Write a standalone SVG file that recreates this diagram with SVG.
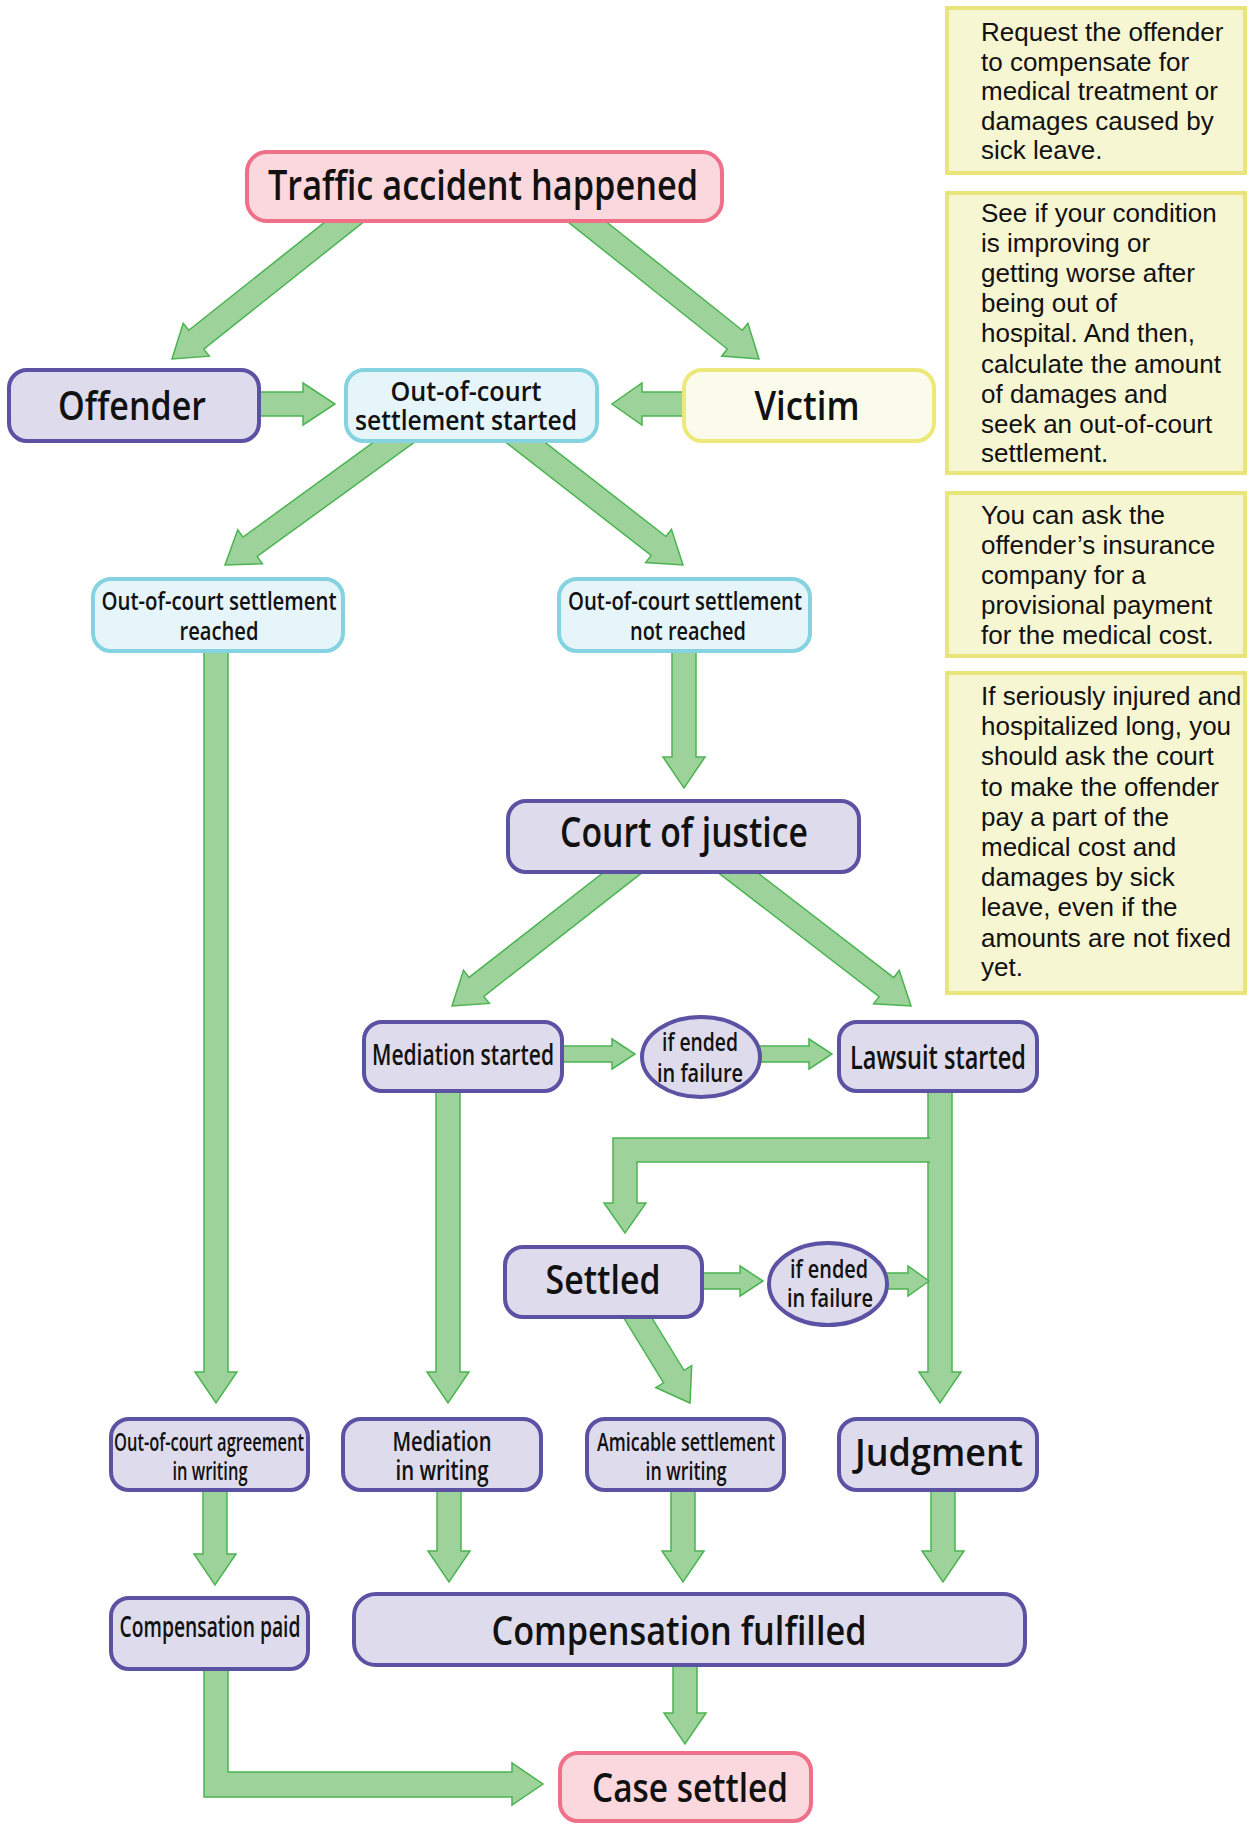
<svg xmlns="http://www.w3.org/2000/svg" width="1250" height="1825" viewBox="0 0 1250 1825">
<style>
.arr{fill:#9dd29b;stroke:#4bb451;stroke-width:1.5;stroke-linejoin:miter}
.pk{fill:#fad8dd;stroke:#ee7189;stroke-width:4}
.pu{fill:#dedcec;stroke:#5b52a3;stroke-width:4}
.cy{fill:#e6f5f9;stroke:#85d3e0;stroke-width:4}
.ye{fill:#fafbea;stroke:#ece97a;stroke-width:4}
.nt{fill:#f7f6d3;stroke:#e9e57a;stroke-width:4}
.t{font-family:"Open Sans","Noto Sans",sans-serif;font-weight:600;fill:#111;text-anchor:middle}
.n{font-family:"Liberation Sans",Arial,sans-serif;font-size:26px;fill:#111}
</style>
<rect width="1250" height="1825" fill="#fff"/>
<g id="connectors">
<path class="arr" transform="translate(172,359) rotate(141.5)" d="M-245,-12 H-31 V-21 L0,0 L-31,21 V12 H-245 Z"/>
<path class="arr" transform="translate(759,359) rotate(38.6)" d="M-245,-12 H-31 V-21 L0,0 L-31,21 V12 H-245 Z"/>
<polygon class="arr" points="255,392 303,392 303,383 335,404 303,425 303,416 255,416"/>
<polygon class="arr" points="690,392 642,392 642,383 612,404 642,425 642,416 690,416"/>
<path class="arr" transform="translate(225,565) rotate(144)" d="M-235,-12 H-31 V-21 L0,0 L-31,21 V12 H-235 Z"/>
<path class="arr" transform="translate(683,565) rotate(37.9)" d="M-226,-12 H-31 V-21 L0,0 L-31,21 V12 H-226 Z"/>
<polygon class="arr" points="204,645 228,645 228,1372 237,1372 216,1403 195,1372 204,1372"/>
<polygon class="arr" points="672,645 696,645 696,757 705,757 684,788 663,757 672,757"/>
<path class="arr" transform="translate(452,1006) rotate(142)" d="M-236,-12 H-31 V-21 L0,0 L-31,21 V12 H-236 Z"/>
<path class="arr" transform="translate(911,1006) rotate(37.6)" d="M-236,-12 H-31 V-21 L0,0 L-31,21 V12 H-236 Z"/>
<polygon class="arr" points="558,1046 612,1046 612,1039 635,1054 612,1069 612,1062 558,1062"/>
<polygon class="arr" points="757,1046 809,1046 809,1039 832,1054 809,1069 809,1062 757,1062"/>
<polygon class="arr" points="436,1088 460,1088 460,1372 469,1372 448,1403 427,1372 436,1372"/>
<polygon class="arr" points="928,1088 952,1088 952,1372 961,1372 940,1403 919,1372 928,1372"/>
<path class="arr" d="M930,1138 H613 V1203 H604 L625,1233 L646,1203 H637 V1162 H930"/>
<polygon class="arr" points="700,1273 740,1273 740,1266 763,1281 740,1296 740,1289 700,1289"/>
<polygon class="arr" points="884,1273 908,1273 908,1266 929,1281 908,1296 908,1289 884,1289"/>
<path class="arr" transform="translate(690,1403) rotate(58.5)" d="M-114,-12 H-31 V-21 L0,0 L-31,21 V12 H-114 Z"/>
<polygon class="arr" points="203,1485 227,1485 227,1554 236,1554 215,1585 194,1554 203,1554"/>
<polygon class="arr" points="437,1485 461,1485 461,1551 470,1551 449,1582 428,1551 437,1551"/>
<polygon class="arr" points="671,1485 695,1485 695,1551 704,1551 683,1582 662,1551 671,1551"/>
<polygon class="arr" points="931,1485 955,1485 955,1551 964,1551 943,1582 922,1551 931,1551"/>
<polygon class="arr" points="673,1660 697,1660 697,1713 706,1713 685,1744 664,1713 673,1713"/>
<path class="arr" d="M204,1664 V1797 H512 V1805 L543,1784 L512,1763 V1772 H228 V1664"/>
</g>
<g id="n-traffic"><rect class="pk" x="247" y="152" width="475" height="69" rx="20"/><text class="t" x="483" y="200" font-size="42" textLength="430" lengthAdjust="spacingAndGlyphs">Traffic accident happened</text></g>
<g id="n-offender"><rect class="pu" x="9" y="370" width="250" height="71" rx="18"/><text class="t" x="132" y="420" font-size="40" textLength="148" lengthAdjust="spacingAndGlyphs">Offender</text></g>
<g id="n-ooc-started"><rect class="cy" x="346" y="370" width="251" height="71" rx="18"/><text class="t" x="466" y="401" font-size="27" textLength="151" lengthAdjust="spacingAndGlyphs">Out-of-court</text><text class="t" x="466" y="430" font-size="27" textLength="222" lengthAdjust="spacingAndGlyphs">settlement started</text></g>
<g id="n-victim"><rect class="ye" x="684" y="370" width="250" height="71" rx="18"/><text class="t" x="807" y="420" font-size="40" textLength="105" lengthAdjust="spacingAndGlyphs">Victim</text></g>
<g id="n-ooc-reached"><rect class="cy" x="93" y="579" width="250" height="72" rx="18"/><text class="t" x="219" y="610" font-size="26" textLength="235" lengthAdjust="spacingAndGlyphs">Out-of-court settlement</text><text class="t" x="219" y="640" font-size="26" textLength="79" lengthAdjust="spacingAndGlyphs">reached</text></g>
<g id="n-ooc-not-reached"><rect class="cy" x="559" y="579" width="251" height="72" rx="18"/><text class="t" x="685" y="610" font-size="26" textLength="234" lengthAdjust="spacingAndGlyphs">Out-of-court settlement</text><text class="t" x="688" y="640" font-size="26" textLength="116" lengthAdjust="spacingAndGlyphs">not reached</text></g>
<g id="n-court"><rect class="pu" x="508" y="801" width="351" height="71" rx="18"/><text class="t" x="684" y="847" font-size="41" textLength="248" lengthAdjust="spacingAndGlyphs">Court of justice</text></g>
<g id="n-mediation-started"><rect class="pu" x="364" y="1022" width="198" height="69" rx="18"/><text class="t" x="463" y="1065" font-size="29" textLength="182" lengthAdjust="spacingAndGlyphs">Mediation started</text></g>
<g id="n-failure1"><ellipse class="pu" cx="701" cy="1057" rx="59" ry="40"/><text class="t" x="700" y="1051" font-size="26" textLength="76" lengthAdjust="spacingAndGlyphs">if ended</text><text class="t" x="700" y="1082" font-size="26" textLength="86" lengthAdjust="spacingAndGlyphs">in failure</text></g>
<g id="n-lawsuit"><rect class="pu" x="839" y="1022" width="198" height="69" rx="18"/><text class="t" x="938" y="1069" font-size="32" textLength="176" lengthAdjust="spacingAndGlyphs">Lawsuit started</text></g>
<g id="n-settled"><rect class="pu" x="505" y="1247" width="197" height="70" rx="18"/><text class="t" x="603" y="1294" font-size="40" textLength="115" lengthAdjust="spacingAndGlyphs">Settled</text></g>
<g id="n-failure2"><ellipse class="pu" cx="828" cy="1284" rx="59" ry="41"/><text class="t" x="829" y="1278" font-size="26" textLength="78" lengthAdjust="spacingAndGlyphs">if ended</text><text class="t" x="830" y="1307" font-size="26" textLength="86" lengthAdjust="spacingAndGlyphs">in failure</text></g>
<g id="n-ooc-agreement"><rect class="pu" x="111" y="1419" width="197" height="71" rx="18"/><text class="t" x="209" y="1451" font-size="25" textLength="190" lengthAdjust="spacingAndGlyphs">Out-of-court agreement</text><text class="t" x="210" y="1480" font-size="25" textLength="75" lengthAdjust="spacingAndGlyphs">in writing</text></g>
<g id="n-mediation-writing"><rect class="pu" x="343" y="1419" width="198" height="71" rx="18"/><text class="t" x="442" y="1451" font-size="27" textLength="99" lengthAdjust="spacingAndGlyphs">Mediation</text><text class="t" x="442" y="1480" font-size="27" textLength="93" lengthAdjust="spacingAndGlyphs">in writing</text></g>
<g id="n-amicable"><rect class="pu" x="587" y="1419" width="197" height="71" rx="18"/><text class="t" x="686" y="1451" font-size="25" textLength="178" lengthAdjust="spacingAndGlyphs">Amicable settlement</text><text class="t" x="686" y="1480" font-size="25" textLength="81" lengthAdjust="spacingAndGlyphs">in writing</text></g>
<g id="n-judgment"><rect class="pu" x="839" y="1419" width="198" height="71" rx="18"/><text class="t" x="939" y="1466" font-size="38" textLength="168" lengthAdjust="spacingAndGlyphs">Judgment</text></g>
<g id="n-comp-paid"><rect class="pu" x="111" y="1598" width="197" height="71" rx="18"/><text class="t" x="210" y="1637" font-size="28" textLength="181" lengthAdjust="spacingAndGlyphs">Compensation paid</text></g>
<g id="n-comp-fulfilled"><rect class="pu" x="354" y="1594" width="671" height="71" rx="22"/><text class="t" x="679" y="1645" font-size="40" textLength="375" lengthAdjust="spacingAndGlyphs">Compensation fulfilled</text></g>
<g id="n-case-settled"><rect class="pk" x="560" y="1753" width="251" height="68" rx="18"/><text class="t" x="690" y="1802" font-size="40" textLength="196" lengthAdjust="spacingAndGlyphs">Case settled</text></g>
<g id="note1"><rect class="nt" x="947" y="8" width="298" height="165"/><text class="n"><tspan x="981" y="41">Request the offender</tspan><tspan x="981" y="71">to compensate for</tspan><tspan x="981" y="100">medical treatment or</tspan><tspan x="981" y="130">damages caused by</tspan><tspan x="981" y="159">sick leave.</tspan></text></g>
<g id="note2"><rect class="nt" x="947" y="193" width="298" height="280"/><text class="n"><tspan x="981" y="222">See if your condition</tspan><tspan x="981" y="252">is improving or</tspan><tspan x="981" y="282">getting worse after</tspan><tspan x="981" y="312">being out of</tspan><tspan x="981" y="342">hospital. And then,</tspan><tspan x="981" y="373">calculate the amount</tspan><tspan x="981" y="403">of damages and</tspan><tspan x="981" y="433">seek an out-of-court</tspan><tspan x="981" y="462">settlement.</tspan></text></g>
<g id="note3"><rect class="nt" x="947" y="493" width="298" height="163"/><text class="n"><tspan x="981" y="524">You can ask the</tspan><tspan x="981" y="554">offender’s insurance</tspan><tspan x="981" y="584">company for a</tspan><tspan x="981" y="614">provisional payment</tspan><tspan x="981" y="644">for the medical cost.</tspan></text></g>
<g id="note4"><rect class="nt" x="947" y="673" width="298" height="320"/><text class="n"><tspan x="981" y="705">If seriously injured and</tspan><tspan x="981" y="735">hospitalized long, you</tspan><tspan x="981" y="765">should ask the court</tspan><tspan x="981" y="796">to make the offender</tspan><tspan x="981" y="826">pay a part of the</tspan><tspan x="981" y="856">medical cost and</tspan><tspan x="981" y="886">damages by sick</tspan><tspan x="981" y="916">leave, even if the</tspan><tspan x="981" y="947">amounts are not fixed</tspan><tspan x="981" y="976">yet.</tspan></text></g>
</svg>
